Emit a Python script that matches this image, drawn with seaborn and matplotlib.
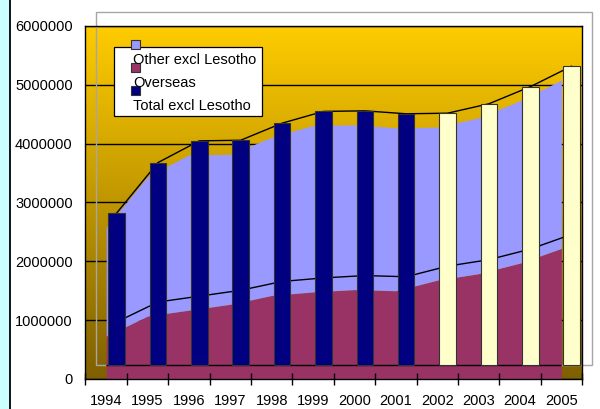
import numpy as np
import pandas as pd
import matplotlib
matplotlib.use("Agg")
import matplotlib.pyplot as plt
from matplotlib.patches import Rectangle
from matplotlib.colors import LinearSegmentedColormap
import seaborn as sns

# ---- data -------------------------------------------------------------
years = [1994, 1995, 1996, 1997, 1998, 1999, 2000, 2001, 2002, 2003, 2004, 2005]
overseas = [730000, 1070000, 1170000, 1270000, 1420000, 1480000,
            1520000, 1500000, 1680000, 1790000, 1970000, 2220000]
other_excl_lesotho = [1850000, 2370000, 2640000, 2550000, 2690000, 2830000,
                      2800000, 2770000, 2600000, 2650000, 2760000, 2860000]
total_excl_lesotho = [2580000, 3440000, 3810000, 3820000, 4110000, 4310000,
                      4320000, 4270000, 4280000, 4440000, 4730000, 5080000]
status = ["Actual"] * 8 + ["Projected"] * 4
series_labels = ["Other excl Lesotho", "Overseas", "Total excl Lesotho"]
y_ticks = [0, 1000000, 2000000, 3000000, 4000000, 5000000, 6000000]

# ---- style ------------------------------------------------------------
C_OTHER = "#9999FF"
C_OVERSEAS = "#993366"
C_TOTAL = "#000080"
C_PROJ = "#FFFFCC"
FS = 10.5

sns.set_theme(style="white")
plt.rcParams["font.family"] = ["Liberation Sans", "DejaVu Sans"]

W, H = 600, 409
fig = plt.figure(figsize=(W / 100, H / 100), dpi=100, facecolor="white")


def fx(px):
    return px / W


def fy(py):
    return 1 - py / H


ax = fig.add_axes([fx(85.5), fy(379), (582 - 85.5) / W, (379 - 26) / H])
ax.set_facecolor("none")

# light strip down the left edge of the page
fig.add_artist(Rectangle((0, 0), fx(9.5), 1, transform=fig.transFigure,
                         facecolor="#CCFFFF", edgecolor="none", zorder=0))
fig.add_artist(plt.Line2D([fx(10), fx(10)], [0, 1], transform=fig.transFigure,
                          color="black", lw=1.3, zorder=1))

# gold-to-olive wall gradient
wall = LinearSegmentedColormap.from_list("wall", ["#7F6000", "#FFCC00"])
ax.imshow(np.linspace(0, 1, 256).reshape(-1, 1), cmap=wall, origin="lower",
          extent=(0, 1, 0, 1), transform=ax.transAxes, aspect="auto",
          interpolation="bilinear", zorder=0)

x = np.arange(len(years), dtype=float)
ov = np.array(overseas, dtype=float)
oth = np.array(other_excl_lesotho, dtype=float)
tot = np.array(total_excl_lesotho, dtype=float)
stack_top = ov + oth

# depth of the pseudo-3D back plane, in data units
DX = 0.25
DY = 238000
XLIM = (-0.5, len(years) - 0.5)
YLIM = (0, 6000000)

# back-wall outline
ax.add_patch(Rectangle((XLIM[0] + DX, YLIM[0] + DY), XLIM[1] - XLIM[0],
                       YLIM[1] - YLIM[0], fill=False, edgecolor="#A6A6A6",
                       lw=1.0, clip_on=False, zorder=0.6))

# stacked areas (front face)
ax.fill_between(x, 0, ov, color=C_OVERSEAS, lw=0, zorder=1)
ax.fill_between(x, ov, stack_top, color=C_OTHER, lw=0, zorder=1)

# back edges of the areas
sns.lineplot(x=x + DX, y=ov + DY, color="black", lw=1.0, zorder=2, ax=ax)
sns.lineplot(x=x + DX, y=stack_top + DY, color="black", lw=1.0, zorder=2, ax=ax)
ax.hlines(DY, x[0], x[-1], color="black", lw=1.0, zorder=2)

# columns on the back plane
bars = pd.DataFrame({"pos": x + DX, "total": tot, "status": status})
sns.barplot(data=bars, x="pos", y="total", hue="status", native_scale=True,
            dodge=False, width=0.4, saturation=1,
            palette={"Actual": C_TOTAL, "Projected": C_PROJ},
            edgecolor="#333333", linewidth=0.8, bottom=DY, errorbar=None,
            legend=False, zorder=3, ax=ax)

# ---- axes -------------------------------------------------------------
ax.set_xlim(*XLIM)
ax.set_ylim(*YLIM)
ax.set_xlabel("")
ax.set_ylabel("")
ax.set_yticks(y_ticks, labels=[str(v) for v in y_ticks])
ax.set_xticks(x, labels=[str(v) for v in years])
ax.set_xticks(np.arange(XLIM[0], XLIM[1] + 0.5), minor=True)
ax.tick_params(axis="y", length=0, pad=9.2, labelsize=FS, labelcolor="black")
ax.tick_params(axis="x", which="major", length=0, pad=11, labelsize=FS,
               labelcolor="black")
ax.tick_params(axis="x", which="minor", length=9, width=1.0,
               direction="inout", color="black", bottom=True)
ax.yaxis.grid(True, color="black", lw=1.0)
ax.xaxis.grid(False)
ax.set_axisbelow(True)
ax.xaxis.set_zorder(4)
for side in ["left", "right", "top", "bottom"]:
    ax.spines[side].set_visible(True)
    ax.spines[side].set_color("black")
    ax.spines[side].set_linewidth(1.0)

# ---- legend -----------------------------------------------------------
fig.add_artist(Rectangle((fx(114.3), fy(116)), fx(261.7) - fx(114.3),
                         fy(46.7) - fy(116), transform=fig.transFigure,
                         facecolor="white", edgecolor="black", lw=0.9,
                         zorder=5))
swatches = [C_OTHER, C_OVERSEAS, C_TOTAL]
sq_top = [40, 63, 86]
baselines = [64, 86.7, 110]
for label, col, top, base in zip(series_labels, swatches, sq_top, baselines):
    fig.add_artist(Rectangle((fx(130.5), fy(top + 9.3)), 9.3 / W, 9.3 / H,
                             transform=fig.transFigure, facecolor=col,
                             edgecolor="#333333", lw=0.8, zorder=6))
    fig.text(fx(133), fy(base), label, fontsize=FS, color="black",
             ha="left", va="baseline", zorder=7)

fig.savefig("out.png", dpi=100, facecolor="white")
